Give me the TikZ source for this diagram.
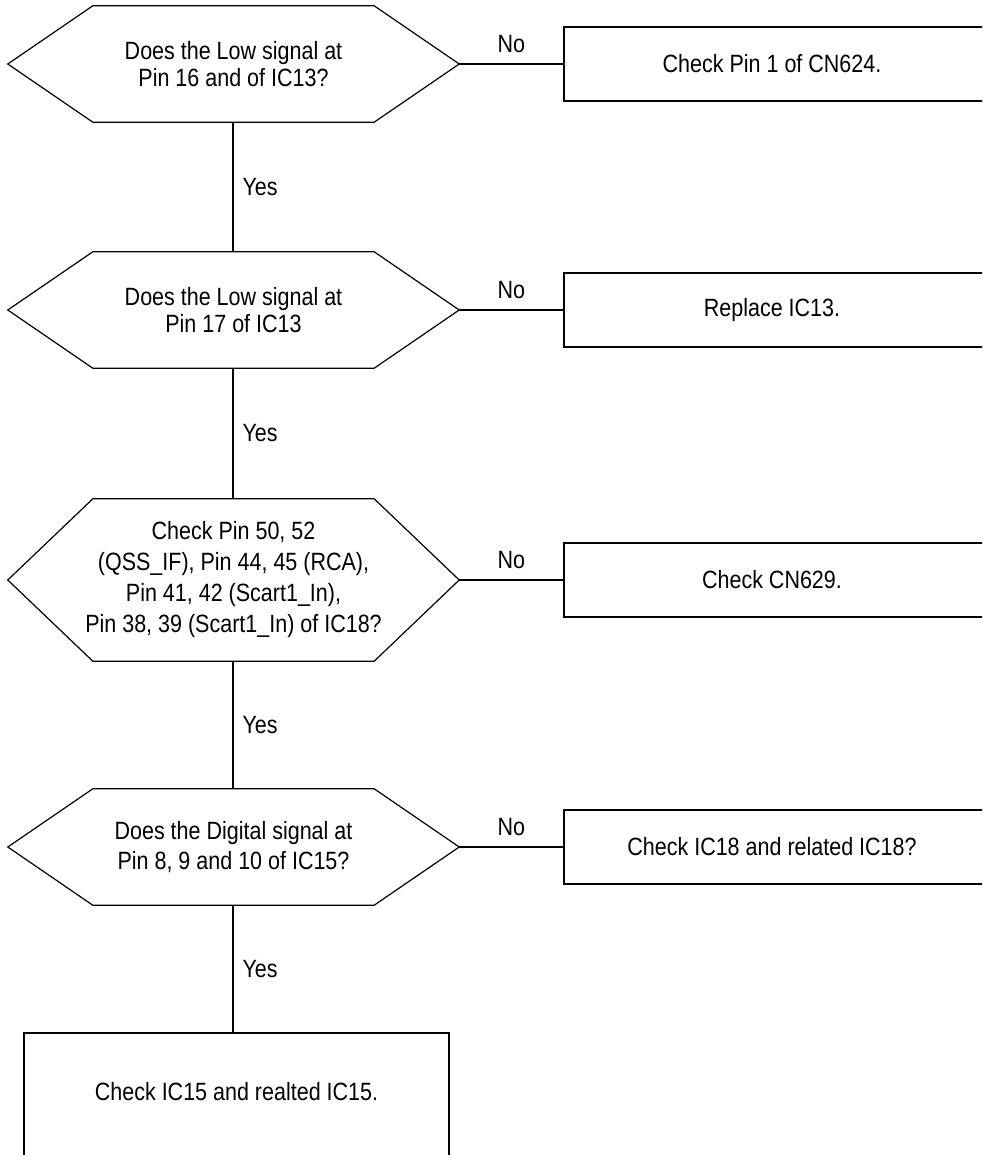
\documentclass[tikz,border=0pt]{standalone}
\usepackage{fontspec}
\setmainfont{Liberation Sans}[FakeStretch=0.86]
\usetikzlibrary{calc}
\tikzset{
  every node/.style={font=\fontsize{25}{26.5}\selectfont},
  hexbox/.style={minimum width=451pt, inner sep=0pt, align=center},
  resbox/.style={draw, line width=1.2pt, minimum width=420pt, minimum height=74pt, inner sep=0pt},
  conn/.style={line width=1.2pt},
  lbl/.style={inner sep=0pt}
}
\newcommand{\hexdraw}[1]{%
  \draw[conn] (#1.west) -- ($(#1.north west)+(85,0)$) -- ($(#1.north east)+(-85,0)$) -- (#1.east)
    -- ($(#1.south east)+(-85,0)$) -- ($(#1.south west)+(85,0)$) -- cycle;}
\begin{document}
\begin{tikzpicture}[x=1pt,y=-1pt]
\useasboundingbox (0,0) rectangle (982,1155);
\clip (0,0) rectangle (982,1155);
% decisions
\node[hexbox, minimum height=116pt] (d1) at (233.5,64) {Does the Low signal at\\Pin 16 and of IC13?};
\node[hexbox, minimum height=116pt] (d2) at (233.5,310) {Does the Low signal at\\Pin 17 of IC13};
\node[hexbox, minimum height=162pt, font=\fontsize{25}{31}\selectfont] (d3) at (233.5,580) {Check Pin 50, 52\\(QSS\_IF), Pin 44, 45 (RCA),\\Pin 41, 42 (Scart1\_In),\\Pin 38, 39 (Scart1\_In) of IC18?};
\node[hexbox, minimum height=116pt, font=\fontsize{25}{30}\selectfont] (d4) at (233.5,847) {Does the Digital signal at\\Pin 8, 9 and 10 of IC15?};
\hexdraw{d1}
\hexdraw{d2}
\hexdraw{d3}
\hexdraw{d4}
% result boxes (right edge beyond page)
\node[resbox] (b1) at (774,64) {};
\node at (772,64) (t1) {Check Pin 1 of CN624.};
\node[resbox] (b2) at (774,310) {};
\node at (772,310) (t2) {Replace IC13.};
\node[resbox] (b3) at (774,580) {};
\node at (772,580) (t3) {Check CN629.};
\node[resbox] (b4) at (774,847) {};
\node at (772,847) (t4) {Check IC18 and related IC18?};
% bottom box
\node[draw, line width=1.2pt, minimum width=425pt, minimum height=140pt, inner sep=0pt] (b5) at (236.5,1103) {};
\node (t5) at (236.5,1092) {Check IC15 and realted IC15.};
% No connectors
\draw[conn] (d1.east) -- node[lbl, above=11pt] {No} (b1.west);
\draw[conn] (d2.east) -- node[lbl, above=11pt] {No} (b2.west);
\draw[conn] (d3.east) -- node[lbl, above=11pt] {No} (b3.west);
\draw[conn] (d4.east) -- node[lbl, above=11pt] {No} (b4.west);
% Yes connectors
\draw[conn] (d1.south -| 233,0) -- node[lbl, right=9pt] {Yes} (d2.north -| 233,0);
\draw[conn] (d2.south -| 233,0) -- node[lbl, right=9pt] {Yes} (d3.north -| 233,0);
\draw[conn] (d3.south -| 233,0) -- node[lbl, right=9pt] {Yes} (d4.north -| 233,0);
\draw[conn] (d4.south -| 233,0) -- node[lbl, right=9pt] {Yes} (b5.north -| 233,0);
\end{tikzpicture}
\end{document}
